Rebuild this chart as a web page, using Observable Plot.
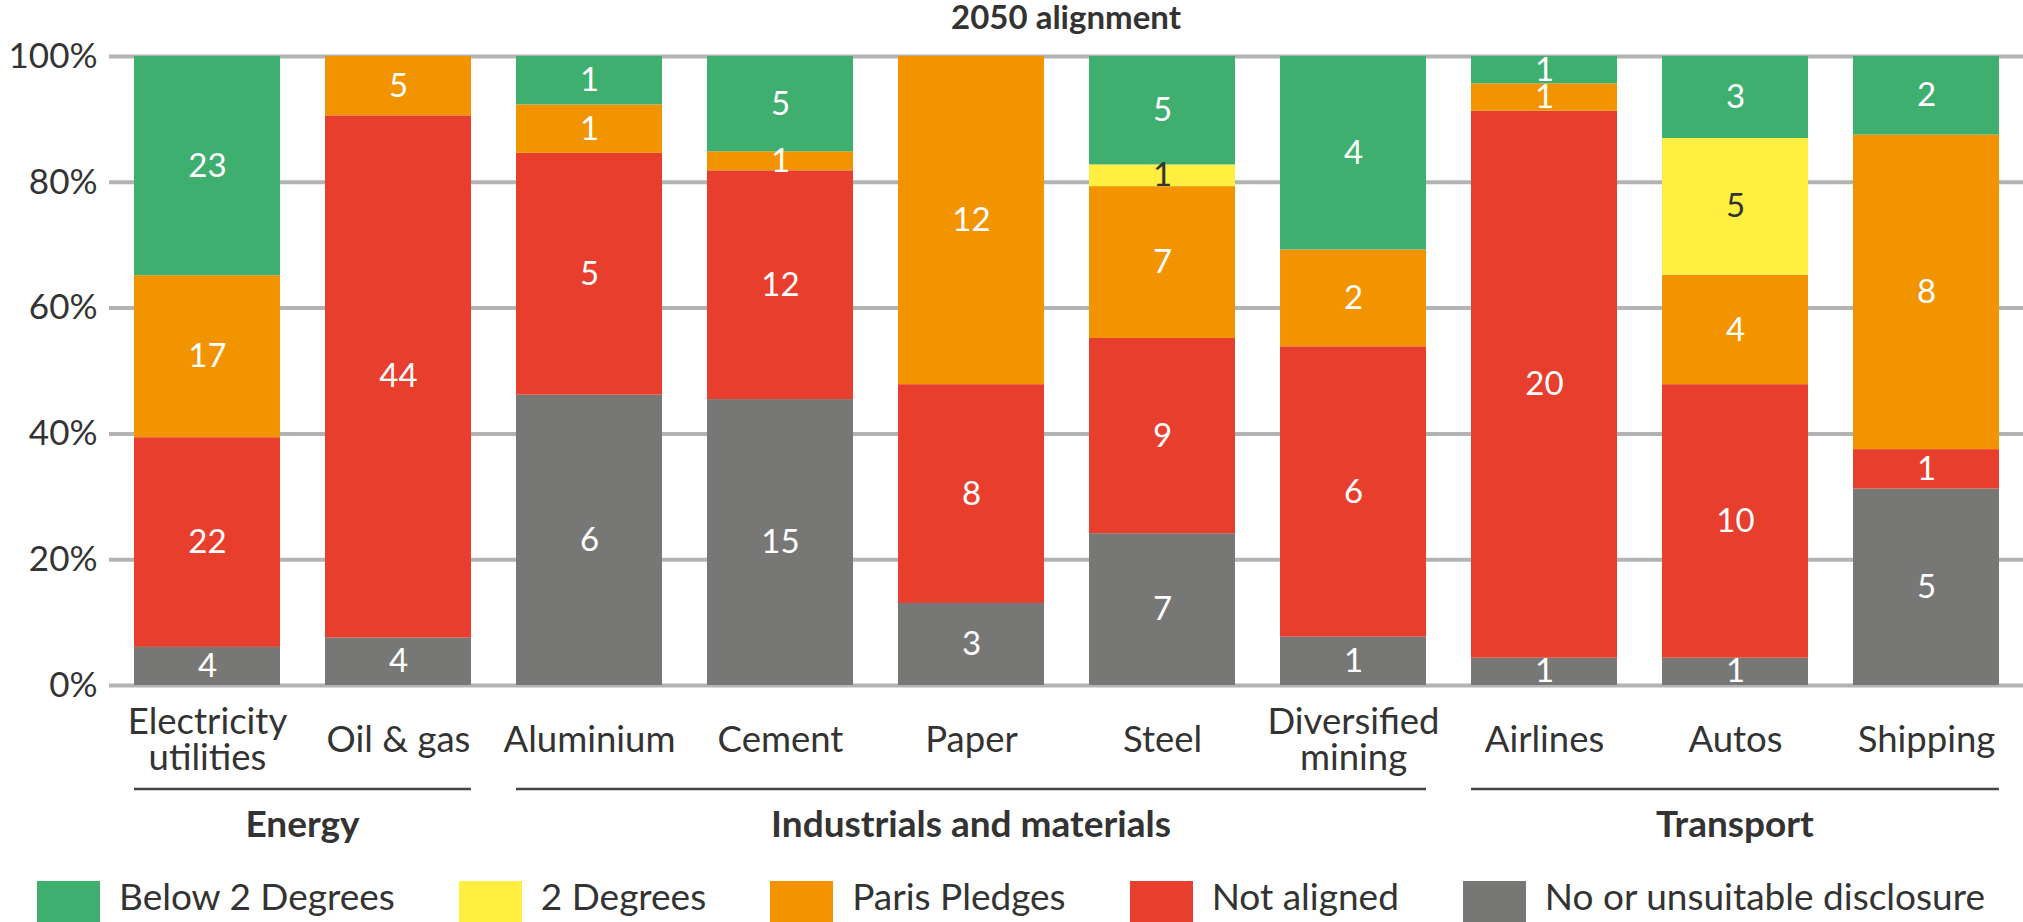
<!DOCTYPE html>
<html>
<head>
<meta charset="utf-8">
<script src="https://cdn.jsdelivr.net/npm/d3@7"></script>
<script src="https://cdn.jsdelivr.net/npm/@observablehq/plot@0.6"></script>
<style>
  html, body { margin: 0; padding: 0; background: #fff; overflow: hidden; }
  body { width: 2023px; height: 922px; position: relative; font-family: Lato, "Noto Sans", sans-serif; color: #333; }
  #title { position: absolute; left: 109px; width: 1914px; top: -4px; text-align: center; font-weight: 700; font-size: 33px; line-height: 40px; color: #333; }
  #chart { position: absolute; left: 0; top: 40px; }
  #legend { position: absolute; left: 37px; top: 874px; display: flex; gap: 64px; font-size: 37px; line-height: 44px; color: #333; }
  .item { display: flex; align-items: flex-start; gap: 19px; }
  .sw { width: 63px; height: 63px; margin-top: 7px; }
</style>
</head>
<body>
<div id="title">2050 alignment</div>
<div id="chart"></div>
<div id="legend"></div>
<script>
// ---- data ----
const sectors = ["Electricity\nutilities", "Oil & gas", "Aluminium", "Cement", "Paper", "Steel", "Diversified\nmining", "Airlines", "Autos", "Shipping"];
const categories = ["No or unsuitable disclosure", "Not aligned", "Paris Pledges", "2 Degrees", "Below 2 Degrees"];
const noDisclosure = [4, 4, 6, 15, 3, 7, 1, 1, 1, 5];
const notAligned   = [22, 44, 5, 12, 8, 9, 6, 20, 10, 1];
const parisPledges = [17, 5, 1, 1, 12, 7, 2, 1, 4, 8];
const twoDegrees   = [0, 0, 0, 0, 0, 1, 0, 0, 5, 0];
const below2       = [23, 0, 1, 5, 0, 5, 4, 1, 3, 2];
const colors = ["#777776", "#E83E2E", "#F29300", "#FFEF40", "#3FAF6F"];
const groups = ["Energy", "Industrials and materials", "Transport"];
const groupMembers = [
  ["Electricity\nutilities", "Oil & gas"],
  ["Aluminium", "Cement", "Paper", "Steel", "Diversified\nmining"],
  ["Airlines", "Autos", "Shipping"]
];
const yTicks = [0, 0.2, 0.4, 0.6, 0.8, 1];

const series = [noDisclosure, notAligned, parisPledges, twoDegrees, below2];
const rows = [];
sectors.forEach((s, i) => {
  categories.forEach((c, j) => {
    if (series[j][i] > 0) rows.push({sector: s, category: c, count: series[j][i]});
  });
});

const chart = Plot.plot({
  width: 2023,
  height: 820,
  marginTop: 16,
  marginBottom: 175,
  marginLeft: 109,
  marginRight: 0,
  style: {fontFamily: "Lato, 'Noto Sans', sans-serif", fontSize: "35px", color: "#333", background: "white", overflow: "visible"},
  x: {domain: sectors, paddingInner: 0.236, paddingOuter: 0.128, axis: null},
  y: {domain: [0, 1], ticks: 5, tickFormat: d => Math.round(d * 100) + "%", tickSize: 0, tickPadding: 12, label: null},
  color: {domain: categories, range: colors},
  marks: [
    Plot.ruleY(yTicks, {stroke: "#b3b3b3", strokeWidth: 4}),
    Plot.barY(rows, Plot.stackY({x: "sector", y: "count", z: "category", fill: "category", offset: "normalize", order: categories})),
    Plot.text(rows, Plot.stackY({
      x: "sector", y: "count", z: "category", offset: "normalize", order: categories,
      text: d => String(d.count),
      fill: d => d.category === "2 Degrees" ? "#333333" : "#ffffff",
      fontSize: 33
    })),
    Plot.text(sectors, {x: d => d, frameAnchor: "bottom", dy: 55, lineAnchor: "middle", fontSize: 36.5, fill: "#333", lineHeight: 0.97})
  ]
});
document.getElementById("chart").appendChild(chart);

// group brackets using the plot's x scale
const xs = chart.scale("x");
const svg = d3.select(chart);
const g = svg.append("g");
groups.forEach((name, k) => {
  const mem = groupMembers[k];
  const x1 = xs.apply(mem[0]);
  const x2 = xs.apply(mem[mem.length - 1]) + xs.bandwidth;
  g.append("line").attr("x1", x1).attr("x2", x2).attr("y1", 749).attr("y2", 749)
    .attr("stroke", "#444").attr("stroke-width", 2.5);
  g.append("text").attr("x", (x1 + x2) / 2).attr("y", 797).attr("text-anchor", "middle")
    .attr("font-size", 37).attr("font-weight", 700).attr("fill", "#333").text(name);
});

// legend
const legend = d3.select("#legend");
categories.slice().reverse().forEach(c => {
  const item = legend.append("div").attr("class", "item");
  item.append("div").attr("class", "sw").style("background", colors[categories.indexOf(c)]);
  item.append("div").text(c);
});
</script>
</body>
</html>
